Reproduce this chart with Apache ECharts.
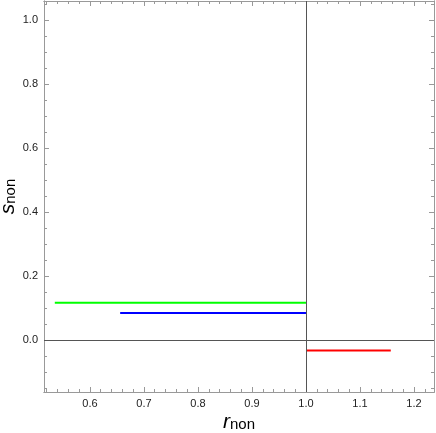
<!DOCTYPE html>
<html>
<head>
<meta charset="utf-8">
<script src="https://cdn.jsdelivr.net/npm/echarts@6/dist/echarts.min.js"></script>
<style>
  html, body { margin: 0; padding: 0; background: #fff; }
  #chart { width: 436px; height: 433px; }
</style>
</head>
<body>
<div id="chart"></div>
<script>
// axis ranges
const xRange = [0.515, 1.237];
const yRange = [-0.163, 1.06];

// tick labels
const xMajor = [0.6, 0.7, 0.8, 0.9, 1.0, 1.1, 1.2];
const yMajor = [0.0, 0.2, 0.4, 0.6, 0.8, 1.0];

// the three horizontal segments
const greenX = [0.535, 1.0];
const greenY = [0.116, 0.116];
const blueX = [0.656, 1.0];
const blueY = [0.084, 0.084];
const redX = [1.0, 1.157];
const redY = [-0.033, -0.033];

// minor ticks between the majors
function minors(lo, hi, step) {
  let out = [];
  let start = Math.ceil(lo / step);
  for (let i = start; i * step <= hi; i++) {
    out.push(+(i * step).toFixed(4));
  }
  return out;
}
const xMinor = minors(xRange[0], xRange[1], 0.02);
const yMinor = minors(yRange[0], yRange[1], 0.05);

const frameColor = '#999';
const labelStyle = { color: '#222', fontSize: 11, fontFamily: 'Liberation Sans' };

function pts(xs, ys) {
  return xs.map((x, i) => [x, ys[i]]);
}

// one axis = one side of the frame, with either major or minor ticks
function makeAxis(range, pos, ticks, len, showLabel, extra) {
  return Object.assign({
    type: 'value',
    position: pos,
    min: range[0],
    max: range[1],
    splitLine: { show: false },
    axisLine: { show: true, onZero: false, lineStyle: { color: frameColor, width: 1 } },
    axisTick: { show: true, inside: true, length: len, customValues: ticks,
      lineStyle: { color: frameColor, width: 1 } },
    axisLabel: showLabel ? Object.assign({ show: true, customValues: ticks, margin: 6,
      formatter: v => v.toFixed(1) }, labelStyle) : { show: false }
  }, extra || {});
}

const nameRich = {
  r: { fontSize: 21, fontStyle: 'italic', fontFamily: 'Liberation Sans', color: '#000', padding: [0, 0, 5, 0] },
  s: { fontSize: 15, fontFamily: 'Liberation Sans', color: '#000' }
};

const myChart = echarts.init(document.getElementById('chart'));

const option = {
  animation: false,
  grid: { left: 44, right: 2, top: 1, bottom: 41, containLabel: false, outerBoundsMode: 'none' },
  xAxis: [
    makeAxis(xRange, 'bottom', xMajor, 5, true, {
      name: '{r|r}{s|non}',
      nameLocation: 'middle',
      nameGap: 20,
      nameMoveOverlap: false,
      nameTextStyle: { rich: nameRich }
    }),
    makeAxis(xRange, 'bottom', xMinor, 3, false),
    makeAxis(xRange, 'top', xMajor, 5, false),
    makeAxis(xRange, 'top', xMinor, 3, false)
  ],
  yAxis: [
    makeAxis(yRange, 'left', yMajor, 5, true, {
      name: '{r|s}{s|non}',
      nameLocation: 'middle',
      nameRotate: 90,
      nameGap: 20,
      nameMoveOverlap: false,
      nameTextStyle: { rich: nameRich }
    }),
    makeAxis(yRange, 'left', yMinor, 3, false),
    makeAxis(yRange, 'right', yMajor, 5, false),
    makeAxis(yRange, 'right', yMinor, 3, false)
  ],
  series: [
    {
      type: 'line', data: pts(greenX, greenY), symbol: 'none',
      lineStyle: { color: '#00ff00', width: 2 },
      markLine: {
        silent: true, symbol: 'none', label: { show: false },
        lineStyle: { color: '#555', width: 1, type: 'solid' },
        data: [{ xAxis: 1.0 }, { yAxis: 0.0 }]
      }
    },
    { type: 'line', data: pts(blueX, blueY), symbol: 'none', lineStyle: { color: '#0000ff', width: 2 } },
    { type: 'line', data: pts(redX, redY), symbol: 'none', lineStyle: { color: '#ff0000', width: 2 } }
  ]
};

myChart.setOption(option);
</script>
</body>
</html>
